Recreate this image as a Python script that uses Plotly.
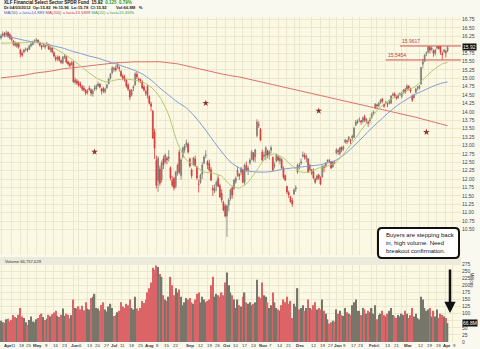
import pandas as pd
import plotly.graph_objects as go

# ---------------- trading calendar ----------------
holidays = ["2011-04-22", "2011-05-30", "2011-07-04", "2011-09-05", "2011-11-24",
            "2011-12-26", "2012-01-02", "2012-01-16", "2012-02-20", "2012-04-06"]
sessions = pd.bdate_range("2011-04-01", "2012-04-12", freq="C", holidays=holidays)

# ---------------- XLF daily prices (Apr 2011 - Apr 2012) ----------------
open_px = [
    16.20, 16.28, 16.33, 16.30, 16.36, 16.30, 16.22, 16.10, 16.05, 15.95, 16.04, 15.85, 15.74, 15.78, 15.86, 15.86, 15.86, 15.97, 16.00, 16.10,
    16.12, 16.13, 16.06, 15.96, 15.97, 15.94, 15.98, 16.00, 15.84, 15.90, 15.76, 15.62, 15.58, 15.64, 15.52, 15.46, 15.62, 15.64, 15.49, 15.44, 15.40,
    15.48, 14.88, 14.92, 14.88, 14.82, 14.76, 14.70, 14.64, 14.58, 14.66, 14.66, 14.54, 14.68, 14.68, 14.78, 14.82, 14.62, 14.70, 14.60, 14.72, 14.84, 15.00,
    15.16, 15.28, 15.30, 15.32, 15.30, 15.20, 15.06, 15.02, 14.94, 14.80, 14.64, 14.50, 14.70, 14.80, 15.12, 14.98, 14.96, 14.90, 14.74, 14.56,
    14.76, 14.46, 14.24, 14.02, 13.40, 12.55, 11.95, 12.30, 11.98, 12.60, 12.50, 12.62, 12.66, 12.34, 11.96, 12.02, 11.78, 12.18, 12.80, 12.10, 12.66, 12.86, 13.02,
    13.04, 12.60, 12.10, 12.42, 12.60, 12.36, 11.84, 11.90, 12.14, 12.48, 12.70, 12.52, 12.46, 12.28, 11.72, 11.64, 11.80, 12.02, 11.80, 11.58, 11.30,
    11.20, 10.90, 11.22, 11.42, 11.74, 11.72, 11.92, 12.10, 12.14, 12.20, 12.28, 11.90, 12.40, 12.26, 12.48, 12.60, 12.78, 12.66, 13.30, 13.62, 13.48,
    12.80, 12.68, 12.70, 12.84, 12.70, 12.86, 12.64, 12.40, 12.54, 12.66, 12.54, 12.58, 12.32, 12.10, 11.78, 11.60, 11.48, 11.36, 11.56, 11.70, 12.20,
    12.40, 12.52, 12.68, 12.70, 12.60, 12.60, 12.28, 12.28, 12.22, 12.00, 12.00, 12.12, 12.04, 12.06, 12.34, 12.38, 12.52, 12.54, 12.52, 12.36, 12.48,
    12.78, 12.82, 12.76, 12.94, 12.90, 13.10, 13.12, 13.18, 13.14, 13.28, 13.24, 13.60, 13.68, 13.76, 13.70, 13.72, 13.86, 13.72, 13.66, 13.78,
    13.82, 13.96, 14.12, 14.18, 14.18, 14.28, 14.38, 14.22, 14.26, 14.24, 14.30, 14.26, 14.52, 14.54, 14.46, 14.42, 14.54, 14.46, 14.58, 14.66,
    14.68, 14.76, 14.68, 14.48, 14.42, 14.58, 14.72, 14.70, 14.84, 15.42, 15.52, 15.72, 15.78, 15.92, 15.86, 15.82, 15.74, 15.90, 15.95, 15.94, 15.70, 15.80,
    15.76, 15.82,
]
high_px = [
    16.32, 16.40, 16.38, 16.42, 16.40, 16.34, 16.28, 16.14, 16.10, 16.08, 16.08, 15.88, 15.80, 15.88, 15.92, 15.90, 15.99, 16.06, 16.12, 16.16,
    16.20, 16.16, 16.09, 16.00, 16.06, 16.00, 16.08, 16.03, 15.94, 15.94, 15.80, 15.68, 15.68, 15.67, 15.56, 15.66, 15.72, 15.68, 15.52, 15.48, 15.52,
    15.52, 15.02, 14.98, 14.93, 14.90, 14.80, 14.78, 14.68, 14.68, 14.78, 14.70, 14.68, 14.80, 14.82, 14.90, 14.86, 14.72, 14.74, 14.72, 14.84, 15.02, 15.16,
    15.36, 15.34, 15.38, 15.46, 15.36, 15.24, 15.12, 15.10, 14.98, 14.86, 14.68, 14.68, 14.80, 15.18, 15.20, 15.02, 15.00, 14.94, 14.80, 14.66,
    14.80, 14.50, 14.30, 14.06, 13.50, 12.70, 12.68, 12.40, 12.55, 12.70, 12.76, 12.68, 12.86, 12.38, 12.10, 12.06, 12.24, 12.46, 12.88, 12.62, 12.96, 13.04, 13.18,
    13.10, 12.64, 12.32, 12.66, 12.70, 12.40, 11.98, 12.16, 12.50, 12.70, 12.86, 12.56, 12.58, 12.36, 11.82, 11.84, 11.96, 12.12, 11.86, 11.70, 11.36,
    11.26, 11.24, 11.44, 11.72, 11.80, 12.00, 12.08, 12.38, 12.18, 12.36, 12.30, 12.46, 12.52, 12.40, 12.62, 12.86, 12.80, 12.90, 13.78, 13.72, 13.52,
    12.88, 12.82, 12.98, 12.88, 12.86, 13.00, 12.68, 12.50, 12.76, 12.70, 12.68, 12.62, 12.38, 12.14, 11.80, 11.66, 11.50, 11.44, 11.72, 11.82, 12.46,
    12.48, 12.62, 12.82, 12.78, 12.74, 12.62, 12.46, 12.30, 12.32, 12.04, 12.14, 12.16, 12.08, 12.40, 12.42, 12.50, 12.58, 12.60, 12.54, 12.52, 12.54,
    12.92, 12.90, 12.96, 12.98, 13.00, 13.20, 13.18, 13.28, 13.20, 13.32, 13.56, 13.76, 13.78, 13.84, 13.76, 13.86, 13.92, 13.82, 13.72, 13.84,
    13.98, 14.04, 14.26, 14.24, 14.30, 14.38, 14.42, 14.24, 14.32, 14.28, 14.38, 14.50, 14.58, 14.58, 14.50, 14.54, 14.58, 14.60, 14.68, 14.72,
    14.82, 14.80, 14.72, 14.52, 14.54, 14.72, 14.78, 14.80, 15.34, 15.58, 15.72, 15.80, 15.96, 15.96, 15.96, 15.86, 15.88, 15.96, 15.96, 15.96, 15.80, 15.88,
    15.84, 15.96,
]
low_px = [
    16.15, 16.22, 16.22, 16.25, 16.20, 16.15, 16.10, 15.96, 15.94, 15.90, 15.88, 15.62, 15.64, 15.75, 15.80, 15.78, 15.84, 15.92, 15.98, 16.04,
    16.06, 16.03, 15.94, 15.85, 15.92, 15.88, 15.95, 15.84, 15.78, 15.74, 15.62, 15.50, 15.52, 15.50, 15.43, 15.42, 15.58, 15.44, 15.38, 15.33, 15.38,
    14.86, 14.82, 14.80, 14.74, 14.72, 14.62, 14.60, 14.50, 14.52, 14.62, 14.48, 14.45, 14.62, 14.64, 14.74, 14.70, 14.52, 14.56, 14.55, 14.68, 14.82, 14.96,
    15.12, 15.20, 15.20, 15.28, 15.20, 15.04, 14.94, 14.90, 14.72, 14.62, 14.35, 14.46, 14.62, 14.78, 14.98, 14.88, 14.86, 14.68, 14.60, 14.48,
    14.40, 14.22, 14.02, 13.20, 12.60, 11.72, 11.62, 11.80, 11.90, 12.30, 12.46, 12.44, 12.52, 11.96, 11.76, 11.66, 11.72, 12.10, 12.14, 11.98, 12.62, 12.78, 12.94,
    12.76, 12.34, 12.02, 12.40, 12.36, 11.98, 11.60, 11.86, 12.00, 12.44, 12.62, 12.30, 12.22, 11.94, 11.50, 11.58, 11.64, 11.76, 11.44, 11.30, 11.04,
    10.86, 10.28, 11.04, 11.36, 11.42, 11.68, 11.86, 12.06, 11.98, 12.12, 11.88, 11.82, 12.22, 12.12, 12.42, 12.56, 12.52, 12.50, 13.24, 13.52, 13.12,
    12.52, 12.60, 12.56, 12.62, 12.58, 12.76, 12.24, 12.32, 12.50, 12.52, 12.44, 12.30, 12.00, 11.94, 11.56, 11.44, 11.30, 11.18, 11.52, 11.62, 12.16,
    12.30, 12.42, 12.64, 12.58, 12.50, 12.18, 12.24, 12.12, 12.00, 11.86, 11.96, 11.98, 11.82, 12.04, 12.20, 12.34, 12.48, 12.48, 12.30, 12.34, 12.44,
    12.74, 12.72, 12.70, 12.80, 12.84, 13.06, 13.04, 13.10, 13.04, 13.14, 13.22, 13.58, 13.64, 13.70, 13.62, 13.66, 13.70, 13.66, 13.56, 13.66,
    13.80, 13.90, 14.08, 14.12, 14.14, 14.24, 14.26, 14.12, 14.22, 14.14, 14.22, 14.24, 14.46, 14.42, 14.36, 14.38, 14.48, 14.40, 14.54, 14.54,
    14.64, 14.66, 14.56, 14.30, 14.40, 14.56, 14.64, 14.66, 14.80, 15.30, 15.48, 15.66, 15.74, 15.74, 15.80, 15.64, 15.68, 15.86, 15.86, 15.70, 15.55, 15.74,
    15.62, 15.78,
]
close_px = [
    16.26, 16.32, 16.29, 16.35, 16.26, 16.20, 16.14, 16.02, 15.99, 16.05, 15.93, 15.72, 15.69, 15.84, 15.87, 15.84, 15.96, 16.02, 16.08, 16.11,
    16.14, 16.08, 15.99, 15.93, 15.99, 15.96, 16.02, 15.87, 15.90, 15.78, 15.66, 15.57, 15.63, 15.54, 15.48, 15.63, 15.66, 15.48, 15.43, 15.37, 15.46,
    14.90, 14.95, 14.86, 14.80, 14.77, 14.68, 14.65, 14.56, 14.62, 14.71, 14.56, 14.62, 14.71, 14.77, 14.83, 14.74, 14.68, 14.62, 14.68, 14.80, 14.98, 15.13,
    15.31, 15.28, 15.25, 15.40, 15.31, 15.07, 14.98, 14.95, 14.77, 14.68, 14.44, 14.65, 14.74, 15.13, 15.04, 14.95, 14.92, 14.71, 14.65, 14.59,
    14.50, 14.26, 14.17, 13.22, 12.92, 11.82, 12.62, 11.88, 12.48, 12.42, 12.72, 12.57, 12.62, 12.03, 11.82, 11.74, 12.21, 12.42, 12.21, 12.57, 12.93, 12.99, 13.07,
    12.81, 12.39, 12.27, 12.63, 12.42, 12.03, 11.85, 12.12, 12.42, 12.66, 12.72, 12.42, 12.27, 11.97, 11.68, 11.74, 11.91, 11.79, 11.47, 11.38, 11.08,
    10.90, 11.20, 11.38, 11.68, 11.53, 11.97, 12.03, 12.27, 12.09, 12.33, 11.91, 12.42, 12.27, 12.33, 12.57, 12.81, 12.57, 12.87, 13.70, 13.61, 13.16,
    12.57, 12.72, 12.93, 12.72, 12.81, 12.93, 12.27, 12.42, 12.72, 12.57, 12.62, 12.33, 12.06, 11.97, 11.62, 11.53, 11.32, 11.26, 11.68, 11.74, 12.42,
    12.39, 12.48, 12.72, 12.66, 12.69, 12.21, 12.42, 12.18, 12.03, 11.91, 12.09, 12.03, 11.85, 12.39, 12.36, 12.48, 12.57, 12.54, 12.33, 12.51, 12.48,
    12.87, 12.84, 12.93, 12.87, 12.96, 13.16, 13.13, 13.25, 13.16, 13.22, 13.52, 13.70, 13.73, 13.76, 13.73, 13.82, 13.76, 13.79, 13.70, 13.73,
    13.94, 14.00, 14.23, 14.20, 14.26, 14.35, 14.32, 14.17, 14.29, 14.23, 14.26, 14.47, 14.50, 14.47, 14.41, 14.50, 14.53, 14.56, 14.65, 14.59,
    14.77, 14.71, 14.62, 14.35, 14.50, 14.68, 14.71, 14.77, 15.31, 15.49, 15.69, 15.75, 15.93, 15.84, 15.90, 15.75, 15.84, 15.94, 15.88, 15.78, 15.72, 15.84,
    15.80, 15.92,
]
# daily volume, millions of shares
volume_m = [
    75, 70, 68, 80, 82, 72, 78, 95, 88, 85, 96, 120, 90, 85, 70, 60, 78, 90, 72, 70,
    80, 85, 95, 100, 88, 78, 82, 96, 90, 98, 104, 110, 92, 88, 96, 118, 92, 100, 96, 84, 95,
    150, 120, 118, 126, 115, 128, 112, 140, 118, 115, 155, 160, 170, 120, 118, 110, 130, 140, 115, 108, 125, 135,
    120, 92, 95, 105, 110, 140, 125, 120, 135, 130, 150, 120, 115, 160, 118, 110, 120, 145, 138, 150,
    175, 190, 210, 262, 255, 270, 265, 240, 230, 165, 150, 145, 160, 230, 200, 165, 190, 175, 185, 160, 130, 140, 155,
    150, 155, 140, 135, 150, 170, 175, 140, 160, 150, 140, 145, 150, 200, 230, 160, 170, 165, 160, 175, 165,
    210, 245, 200, 175, 165, 150, 120, 150, 130, 125, 160, 175, 140, 135, 140, 130, 135, 140, 220, 160, 155,
    210, 165, 160, 140, 120, 130, 175, 140, 120, 115, 110, 130, 150, 140, 160, 135, 145, 85, 135, 125, 190,
    115, 120, 130, 110, 120, 150, 120, 115, 130, 140, 115, 120, 115, 150, 110, 100, 80, 65, 70, 75, 72,
    115, 100, 110, 95, 92, 120, 105, 100, 95, 130, 140, 150, 110, 110, 95, 120, 115, 100, 110, 105,
    120, 100, 130, 80, 95, 100, 110, 95, 90, 100, 110, 120, 95, 90, 85, 95, 90, 100, 95, 110,
    100, 85, 95, 120, 90, 100, 85, 80, 160, 150, 120, 110, 115, 120, 90, 110, 90, 115, 85, 100, 95, 90,
    85, 66.76,
]

# moving averages, sampled every fifth session (last point = final session)
ma_session = list(range(0, 251, 5)) + [253]
sma20 = [16.05, 16.05, 16.05, 16.07, 16.08, 16.02, 15.90, 15.75, 15.57, 15.37,
         15.16, 14.98, 14.89, 14.95, 14.98, 14.95, 14.89, 14.74, 14.44, 13.91,
         13.07, 12.57, 12.39, 12.21, 12.18, 12.09, 11.82, 11.73, 11.91, 12.27,
         12.63, 12.75, 12.63, 12.39, 12.21, 12.21, 12.33, 12.39, 12.51, 12.81,
         13.16, 13.52, 13.85, 14.15, 14.35, 14.50, 14.62, 14.77, 15.01, 15.25,
         15.43, 15.47]
sma50 = [16.29, 16.23, 16.17, 16.11, 16.07, 16.02, 15.96, 15.90, 15.81, 15.74,
         15.66, 15.60, 15.51, 15.43, 15.34, 15.25, 15.13, 14.95, 14.71, 14.50,
         14.29, 14.12, 13.85, 13.52, 13.16, 12.81, 12.51, 12.33, 12.24, 12.21,
         12.21, 12.24, 12.30, 12.33, 12.36, 12.39, 12.42, 12.48, 12.57, 12.75,
         12.99, 13.25, 13.52, 13.76, 14.00, 14.21, 14.38, 14.53, 14.65, 14.77,
         14.86, 14.89]
sma200 = [15.01, 15.04, 15.07, 15.11, 15.16, 15.19, 15.23, 15.28, 15.31, 15.34,
          15.37, 15.40, 15.43, 15.46, 15.47, 15.49, 15.49, 15.49, 15.49, 15.46,
          15.43, 15.37, 15.31, 15.25, 15.19, 15.13, 15.08, 15.04, 14.98, 14.92,
          14.86, 14.80, 14.74, 14.68, 14.62, 14.56, 14.50, 14.44, 14.38, 14.32,
          14.26, 14.20, 14.14, 14.08, 14.02, 13.96, 13.90, 13.84, 13.77, 13.70,
          13.63, 13.59]

# ex-dividend markers
div_dates = ["2011-06-17", "2011-09-16", "2011-12-16", "2012-03-16"]
div_marker_y = [12.81, 14.26, 14.03, 13.40]

# horizontal price levels
levels = [15.9617, 15.5454]
level_start = ["2012-02-24", "2012-02-13"]

# date axis
tick_days = ["2011-04-01", "2011-04-11", "2011-04-18", "2011-04-25",
             "2011-05-02", "2011-05-09", "2011-05-16", "2011-05-23",
             "2011-06-01", "2011-06-06", "2011-06-13", "2011-06-20", "2011-06-27",
             "2011-07-01", "2011-07-11", "2011-07-18", "2011-07-25",
             "2011-08-01", "2011-08-08", "2011-08-15", "2011-08-22", "2011-08-29",
             "2011-09-01", "2011-09-12", "2011-09-19", "2011-09-26",
             "2011-10-03", "2011-10-10", "2011-10-17", "2011-10-24",
             "2011-11-01", "2011-11-07", "2011-11-14", "2011-11-21", "2011-11-28",
             "2011-12-01", "2011-12-12", "2011-12-19", "2011-12-27",
             "2012-01-03", "2012-01-09", "2012-01-17", "2012-01-23",
             "2012-02-01", "2012-02-06", "2012-02-13", "2012-02-21", "2012-02-27",
             "2012-03-01", "2012-03-12", "2012-03-19", "2012-03-26",
             "2012-04-02", "2012-04-09"]
tick_text = ["<b>Apr</b>", "11", "18", "25",
             "<b>May</b>", "9", "16", "23",
             "<b>Jun</b>", "6", "13", "20", "27",
             "<b>Jul</b>", "11", "18", "25",
             "<b>Aug</b>", "8", "15", "22", "",
             "<b>Sep</b>", "12", "19", "26",
             "<b>Oct</b>", "10", "17", "24",
             "<b>Nov</b>", "7", "14", "21", "",
             "<b>Dec</b>", "12", "19", "27",
             "<b>Jan</b>", "9", "17", "23",
             "<b>Feb</b>", "6", "13", "21", "",
             "<b>Mar</b>", "12", "19", "26",
             "<b>Apr</b>", "9"]
price_ticks = [10.50, 10.75, 11.00, 11.25, 11.50, 11.75, 12.00, 12.25, 12.50, 12.75,
               13.00, 13.25, 13.50, 13.75, 14.00, 14.25, 14.50, 14.75, 15.00, 15.25,
               15.50, 15.75, 16.00, 16.25, 16.50, 16.75]
volume_ticks = [0, 25, 50, 75, 100, 125, 150, 175, 200, 225, 250, 275]

n = len(close_px)
assert len(open_px) == n and len(high_px) == n and len(low_px) == n and len(volume_m) == n


def pos(day):
    return int(sessions.get_loc(pd.Timestamp(day)))


x = list(range(n))
# bar colouring follows the change from the prior close
up_day = [close_px[0] >= open_px[0]] + [close_px[i] >= close_px[i - 1] for i in range(1, n)]

UP_CANDLE = "#7C7C72"
DN_CANDLE = "#D23A3A"
UP_VOL = "#77766A"
DN_VOL = "#DB6468"
BG = "#FBF9E4"
GRID = "#EDE7CD"
PAPER = "#FAF9EF"

fig = go.Figure()


def candles(flag, color):
    idx = [i for i in range(n) if up_day[i] == flag]
    style = dict(line=dict(color=color, width=0.8), fillcolor=color)
    return go.Candlestick(
        x=idx,
        open=[open_px[i] for i in idx], high=[high_px[i] for i in idx],
        low=[low_px[i] for i in idx], close=[close_px[i] for i in idx],
        increasing=style, decreasing=style, whiskerwidth=0,
        hoverinfo="skip", showlegend=False, xaxis="x2", yaxis="y")


fig.add_trace(candles(True, UP_CANDLE))
fig.add_trace(candles(False, DN_CANDLE))

for vals, col in [(sma200, "#DB6B66"), (sma50, "#7E9AD8"), (sma20, "#B2C874")]:
    fig.add_trace(go.Scatter(x=ma_session, y=vals, mode="lines",
                             line=dict(color=col, width=1, shape="spline", smoothing=0.6),
                             hoverinfo="skip", showlegend=False, xaxis="x2", yaxis="y"))

fig.add_trace(go.Scatter(x=[pos(d) for d in div_dates], y=div_marker_y, mode="markers",
                         marker=dict(symbol="star", size=5, color="#8E3430"),
                         hoverinfo="skip", showlegend=False, xaxis="x2", yaxis="y"))

fig.add_trace(go.Bar(x=x, y=volume_m,
                     marker=dict(color=[UP_VOL if u else DN_VOL for u in up_day], line=dict(width=0)),
                     hoverinfo="skip", showlegend=False, xaxis="x", yaxis="y2"))

# pixel geometry of the two panes
H_PLOT = 349 - 17 - 7


def py(pixel_y):
    return (342 - pixel_y) / H_PLOT


def px(pixel_x):
    return pixel_x / 461


x_range = [-0.57, 260.6]
x_ticks = [pos(d) for d in tick_days]
axis_font = dict(family="Liberation Sans", size=5, color="#444444")
date_font = dict(family="Liberation Sans", size=4.4, color="#333333")

common_x = dict(range=x_range, tickmode="array", tickvals=x_ticks, showgrid=True,
                showticklabels=False, gridcolor=GRID, gridwidth=1, zeroline=False, ticks="",
                rangeslider=dict(visible=False), fixedrange=True)

# tick labels hidden where the last-value tags sit
price_text = ["" if v == 16.00 else f"{v:.2f}" for v in price_ticks]
volume_text = ["" if v == 75 else str(v) for v in volume_ticks]

fig.update_layout(
    width=480, height=349,
    margin=dict(l=0, r=19, t=17, b=7),
    paper_bgcolor=PAPER, plot_bgcolor=BG,
    bargap=0.2,
    xaxis=dict(domain=[0, 1], anchor="y2", **common_x),
    xaxis2=dict(domain=[0, 1], anchor="y", matches="x", **common_x),
    yaxis=dict(domain=[py(255), 1], side="right", range=[9.741, 16.824],
               tickmode="array", tickvals=price_ticks, ticktext=price_text,
               tickfont=axis_font, gridcolor=GRID, zeroline=False, ticks="", fixedrange=True),
    yaxis2=dict(domain=[0, py(257)], side="right", range=[0, 300],
                tickmode="array", tickvals=volume_ticks, ticktext=volume_text,
                tickfont=axis_font, gridcolor=GRID, zeroline=False, ticks="", fixedrange=True),
)

shapes = []
# price levels
for lv, start in zip(levels, level_start):
    shapes.append(dict(type="line", xref="x2", yref="y", x0=pos(start), x1=x_range[1],
                       y0=lv, y1=lv, line=dict(color="#D05050", width=1)))
# volume pane header strip
shapes.append(dict(type="rect", xref="paper", yref="paper", x0=0, x1=1, y0=py(265), y1=py(257),
                   fillcolor="#ECEADA", line=dict(width=0), layer="above"))
# rounded note box
X0, X1, YT, YB = px(378), px(459), py(228), py(258)
rx, ry = 4 / 461, 4 / H_PLOT
path = (f"M {X0+rx},{YT} L {X1-rx},{YT} Q {X1},{YT} {X1},{YT-ry} L {X1},{YB+ry} "
        f"Q {X1},{YB} {X1-rx},{YB} L {X0+rx},{YB} Q {X0},{YB} {X0},{YB+ry} "
        f"L {X0},{YT-ry} Q {X0},{YT} {X0+rx},{YT} Z")
shapes.append(dict(type="path", xref="paper", yref="paper", path=path,
                   fillcolor="white", line=dict(color="#111111", width=2), layer="above"))
fig.update_layout(shapes=shapes)

tiny = "Liberation Sans"
ann = []
# date labels under the volume pane, centred on their gridlines
for i, (tv, tt) in enumerate(zip(x_ticks, tick_text)):
    if not tt:
        continue
    first = i == 0
    ann.append(dict(xref="x", yref="paper", x=tv, y=py(345.5), text=tt, showarrow=False,
                    xanchor="left" if first else "center", yanchor="middle",
                    xshift=1 if first else 1.5, font=date_font))
for lv, start in zip(levels, level_start):
    ann.append(dict(xref="x2", yref="y", x=pos(start), y=lv, text=f"{lv:.4f}", showarrow=False,
                    xanchor="left", yanchor="bottom", font=dict(family=tiny, size=5, color="#C03A3A")))
# header lines
ann.append(dict(xref="paper", yref="paper", x=0.004, y=py(2.5), xanchor="left", yanchor="middle",
                showarrow=False, font=dict(family=tiny, size=4.5, color="#111111"),
                text="<b>XLF Financial Select Sector SPDR Fund  15.92  "
                     "<span style='color:#2A9A2A'>0.125  0.79%</span></b>"))
ann.append(dict(xref="paper", yref="paper", x=0.004, y=py(7.5), xanchor="left", yanchor="middle",
                showarrow=False, font=dict(family=tiny, size=4.2, color="#222222"),
                text="<b>Dt 04/03/2012  Op:15.82  Hi:15.96  Lo:15.78  Cl:15.92</b>"))
ann.append(dict(xref="paper", yref="paper", x=px(114), y=py(7.5), xanchor="left", yanchor="middle",
                showarrow=False, font=dict(family=tiny, size=4.2, color="#222222"),
                text="<b>Vol:66.8M   %</b>"))
ann.append(dict(xref="paper", yref="paper", x=0.004, y=py(12.5), xanchor="left", yanchor="middle",
                showarrow=False, font=dict(family=tiny, size=4.2),
                text="<span style='color:#3F62C4'>MA(50) = last=14.889</span> "
                     "<span style='color:#C83A3A'>MA(200) = last=13.5899</span> "
                     "<span style='color:#4E9E2E'>MA(20) = last=15.4695</span>"))
# last-value tags on the right axes
ann.append(dict(xref="paper", yref="y", x=1, y=close_px[-1], xanchor="left", yanchor="middle",
                xshift=1, showarrow=False, text="15.92", bgcolor="#111111",
                font=dict(family=tiny, size=5, color="white"), borderpad=0))
ann.append(dict(xref="paper", yref="y2", x=1, y=volume_m[-1], xanchor="left", yanchor="middle",
                xshift=1, showarrow=False, text="66.8M", bgcolor="#111111",
                font=dict(family=tiny, size=5, color="white"), borderpad=0))
ann.append(dict(xref="paper", yref="paper", x=px(476), y=py(290), showarrow=False,
                text="Millions", textangle=90, font=dict(family=tiny, size=4.5, color="#444444")))
# volume pane header
ann.append(dict(xref="paper", yref="paper", x=0.006, y=py(261), xanchor="left", yanchor="middle",
                showarrow=False, text="Volume 66,757,629", font=dict(family=tiny, size=4.2, color="#333333")))
# note and arrow
ann.append(dict(xref="paper", yref="paper", x=px(384), y=py(243), xanchor="left", yanchor="middle",
                align="left", showarrow=False,
                text="Buyers are stepping back<br>in, high volume. Need<br>breakout confirmation.",
                font=dict(family=tiny, size=6, color="#111111")))
ann.append(dict(xref="paper", yref="paper", x=px(450), y=py(313), ax=0, ay=-45, text="",
                showarrow=True, arrowhead=2, arrowsize=0.9, arrowwidth=2.5, arrowcolor="#111111"))
fig.update_layout(annotations=ann)

fig.write_html("out.html", config={"displayModeBar": False})
